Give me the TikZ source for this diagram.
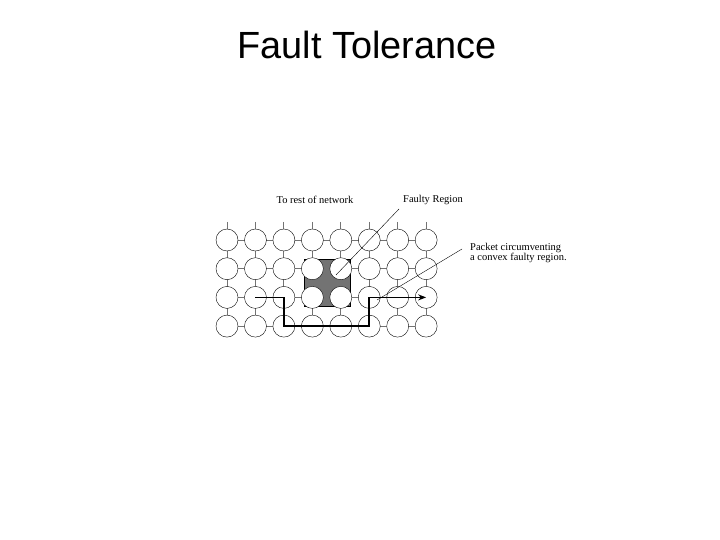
\documentclass[tikz,border=0pt]{standalone}
\usepackage{fontspec}
\setmainfont{Liberation Serif}
\newfontfamily\titlefont{Liberation Sans}
\usetikzlibrary{arrows.meta}

\begin{document}
\begin{tikzpicture}[x=1bp,y=-1bp,
  router/.style={circle, draw=black, fill=white, minimum size=22bp, inner sep=0pt},
  link/.style={draw=black!55, line width=1pt},
  pointer/.style={draw=black, line width=0.4pt},
  lbl/.style={font=\fontsize{10.5}{11}\selectfont, inner sep=0pt, align=left}]
\useasboundingbox (0,0) rectangle (720,540);

\node [font=\titlefont\fontsize{38}{40}\selectfont] (title) at (367,45) {Fault Tolerance};

% faulty region
\node [draw=black, fill=black!55, minimum width=46bp, minimum height=47bp, inner sep=0pt] (fault) at (327,282.5) {};

% links
\foreach \c in {1,...,8} {
  \coordinate (top_\c) at ({227+28.45*(\c-1)},222);
}
\foreach \r in {1,...,4} {
  \draw[link] (227,{240+28.7*(\r-1)}) -- (426,{240+28.7*(\r-1)});
}
\foreach \c in {1,...,8} {
  \draw[link] (top_\c) -- ({227+28.45*(\c-1)},326);
}

% routers
\foreach \c in {1,...,8} {
  \foreach \r in {1,...,4} {
    \node [router] (n_\c_\r) at ({227+28.45*(\c-1)},{240+28.7*(\r-1)}) {};
  }
}

% packet path
\draw[line width=1.6pt, -{Stealth[length=8bp]}] (n_2_3.center) -- (n_3_3.center) -- (n_3_4.center)
  -- (n_6_4.center) -- (n_6_3.center) -- (n_8_3.center);

% labels
\node [lbl] (rest) at (315,200) {To rest of network};
\node [lbl] (faulty) at (433,200) {Faulty Region};
\node [lbl, anchor=west] (packet) at (470,253) {Packet circumventing\\a convex faulty region.};

\coordinate (faultend) at (336,275);
\coordinate (pathend) at (377,300);
\draw[pointer] (faulty.south west) ++(-4,4) -- (faultend);
\draw[pointer] (packet.west) ++(-8,-4) -- (pathend);

\end{tikzpicture}
\end{document}
